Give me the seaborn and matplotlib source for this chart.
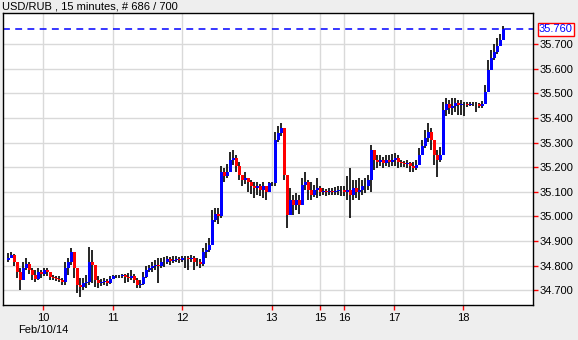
import numpy as np
import pandas as pd
import seaborn as sns
import matplotlib
matplotlib.use("Agg")
import matplotlib.pyplot as plt
import matplotlib.transforms as mtransforms

# ---------------- data ----------------
title = "USD/RUB , 15 minutes, # 686 / 700"
date_label = "Feb/10/14"
first_open = 34.823
last_price = 35.760

close = [
    34.831, 34.843, 34.815, 34.774, 34.742, 34.791, 34.807, 34.782, 34.762, 34.746,
    34.774, 34.766, 34.782, 34.774, 34.754, 34.750, 34.746, 34.742, 34.734, 34.791,
    34.815, 34.856, 34.791, 34.721, 34.713, 34.730, 34.734, 34.815, 34.803, 34.742,
    34.730, 34.734, 34.738, 34.730, 34.746, 34.758, 34.758, 34.758, 34.762, 34.754,
    34.750, 34.758, 34.742, 34.721, 34.725, 34.754, 34.782, 34.791, 34.799, 34.803,
    34.799, 34.815, 34.815, 34.827, 34.819, 34.823, 34.827, 34.823, 34.831, 34.831,
    34.827, 34.831, 34.815, 34.815, 34.807, 34.856, 34.864, 34.884, 34.986, 35.010,
    35.002, 35.181, 35.165, 35.181, 35.230, 35.238, 35.205, 35.169, 35.148, 35.156,
    35.140, 35.124, 35.116, 35.124, 35.108, 35.124, 35.100, 35.136, 35.136, 35.311,
    35.339, 35.360, 35.169, 35.006, 35.067, 35.047, 35.067, 35.047, 35.128, 35.140,
    35.108, 35.087, 35.108, 35.116, 35.100, 35.104, 35.100, 35.104, 35.100, 35.104,
    35.108, 35.108, 35.100, 35.108, 35.087, 35.116, 35.100, 35.108, 35.124, 35.124,
    35.148, 35.270, 35.230, 35.221, 35.230, 35.217, 35.230, 35.221, 35.230, 35.238,
    35.221, 35.217, 35.213, 35.217, 35.205, 35.197, 35.209, 35.250, 35.287, 35.319,
    35.343, 35.311, 35.250, 35.230, 35.250, 35.433, 35.457, 35.441, 35.449, 35.461,
    35.453, 35.457, 35.457, 35.453, 35.457, 35.457, 35.457, 35.449, 35.457, 35.506,
    35.595, 35.644, 35.669, 35.693, 35.717, 35.760,
]

high = [
    34.852, 34.856, 34.848, 34.815, 34.791, 34.815, 34.831, 34.815, 34.791, 34.782,
    34.791, 34.782, 34.791, 34.791, 34.774, 34.762, 34.758, 34.758, 34.750, 34.815,
    34.831, 34.872, 34.856, 34.791, 34.750, 34.750, 34.762, 34.876, 34.864, 34.803,
    34.758, 34.746, 34.750, 34.746, 34.758, 34.762, 34.762, 34.762, 34.766, 34.766,
    34.770, 34.782, 34.766, 34.750, 34.742, 34.774, 34.799, 34.803, 34.815, 34.823,
    34.831, 34.831, 34.835, 34.839, 34.835, 34.839, 34.839, 34.835, 34.839, 34.839,
    34.839, 34.843, 34.839, 34.831, 34.827, 34.872, 34.892, 34.913, 35.026, 35.034,
    35.034, 35.205, 35.197, 35.213, 35.262, 35.270, 35.250, 35.221, 35.169, 35.181,
    35.156, 35.148, 35.140, 35.140, 35.132, 35.140, 35.124, 35.140, 35.140, 35.343,
    35.368, 35.380, 35.360, 35.169, 35.116, 35.087, 35.095, 35.087, 35.156, 35.181,
    35.148, 35.140, 35.128, 35.156, 35.124, 35.116, 35.112, 35.116, 35.116, 35.120,
    35.124, 35.124, 35.124, 35.165, 35.197, 35.148, 35.148, 35.156, 35.148, 35.156,
    35.169, 35.291, 35.270, 35.250, 35.250, 35.242, 35.250, 35.250, 35.254, 35.258,
    35.250, 35.230, 35.226, 35.230, 35.221, 35.221, 35.230, 35.278, 35.311, 35.352,
    35.380, 35.360, 35.311, 35.270, 35.282, 35.465, 35.482, 35.474, 35.482, 35.482,
    35.474, 35.474, 35.465, 35.465, 35.465, 35.465, 35.465, 35.461, 35.469, 35.534,
    35.636, 35.677, 35.701, 35.726, 35.742, 35.774,
]

low = [
    34.815, 34.831, 34.799, 34.750, 34.701, 34.742, 34.782, 34.766, 34.742, 34.734,
    34.742, 34.750, 34.758, 34.758, 34.742, 34.742, 34.738, 34.734, 34.721, 34.721,
    34.762, 34.803, 34.750, 34.689, 34.673, 34.701, 34.709, 34.721, 34.730, 34.713,
    34.709, 34.717, 34.721, 34.717, 34.725, 34.746, 34.750, 34.750, 34.750, 34.730,
    34.734, 34.742, 34.730, 34.709, 34.709, 34.721, 34.750, 34.774, 34.774, 34.782,
    34.730, 34.791, 34.795, 34.807, 34.803, 34.811, 34.815, 34.811, 34.815, 34.791,
    34.782, 34.815, 34.782, 34.799, 34.791, 34.799, 34.831, 34.856, 34.884, 34.978,
    34.969, 34.994, 35.140, 35.156, 35.181, 35.209, 35.181, 35.148, 35.124, 35.132,
    35.100, 35.091, 35.075, 35.087, 35.083, 35.075, 35.067, 35.100, 35.124, 35.124,
    35.303, 35.327, 35.148, 34.953, 35.006, 35.006, 35.026, 35.010, 35.047, 35.108,
    35.067, 35.067, 35.079, 35.075, 35.083, 35.087, 35.083, 35.087, 35.087, 35.087,
    35.087, 35.083, 35.083, 35.067, 34.994, 35.067, 35.075, 35.067, 35.087, 35.095,
    35.108, 35.100, 35.189, 35.197, 35.205, 35.197, 35.205, 35.201, 35.205, 35.205,
    35.197, 35.201, 35.201, 35.197, 35.181, 35.181, 35.189, 35.209, 35.250, 35.278,
    35.303, 35.270, 35.209, 35.160, 35.221, 35.250, 35.408, 35.417, 35.413, 35.425,
    35.413, 35.413, 35.408, 35.445, 35.449, 35.449, 35.425, 35.441, 35.441, 35.457,
    35.506, 35.595, 35.636, 35.660, 35.693, 35.717,
]

day_labels = ["10", "11", "12", "13", "15", "16", "17", "18"]
day_tick_pos = [11.8, 35.1, 58.1, 87.9, 104.1, 112.1, 128.8, 151.8]
price_ticks = [34.7, 34.8, 34.9, 35.0, 35.1, 35.2, 35.3, 35.4, 35.5, 35.6, 35.7]

# ---------------- styling ----------------
sns.set_theme(style="white")
plt.rcParams["font.family"] = ["Liberation Sans", "DejaVu Sans"]

df = pd.DataFrame({"close": close, "high": high, "low": low})
df["open"] = [first_open] + close[:-1]
df["bar"] = np.arange(len(df))
df["dir"] = np.where(df["close"] >= df["open"], "up", "down")
palette = {"up": "#0000FF", "down": "#FF0000"}

W, H = 578, 340
fig = plt.figure(figsize=(W / 100, H / 100), dpi=100, facecolor="#EEEEEE")
ax = fig.add_axes([3 / W, 1 - 305 / H, 530 / W, 292 / H])
ax.set_facecolor("white")

# grid
ax.set_axisbelow(True)
ax.grid(True, color="#D9D9D9", lw=1.0)

# wicks
ax.vlines(df["bar"], df["low"], df["high"], color="black", lw=1.2, zorder=2)
# bodies
ax.bar(df["bar"], df["close"] - df["open"], bottom=df["open"], width=1.0,
       color=df["dir"].map(palette), linewidth=0, zorder=3)

# last price line
ax.axhline(last_price, color="#0000FF", lw=1.1, ls=(0, (4.5, 3.5)), zorder=1.5)

ax.set_xlim(-1.67, 175)
ax.set_ylim(34.640, 35.827)

ax.yaxis.tick_right()
ax.set_yticks(price_ticks)
ax.set_yticklabels([f"{v:.3f}" for v in price_ticks])
ax.set_xticks(day_tick_pos)
ax.set_xticklabels(day_labels)
ax.tick_params(axis="y", which="both", right=True, left=False, length=3.5, width=1.0,
               color="#FF0000", labelsize=8, pad=1, labelcolor="black")
ax.tick_params(axis="x", which="both", bottom=True, length=3.5, width=1.0,
               color="#FF0000", labelsize=8, pad=2, labelcolor="black")

for s in ax.spines.values():
    s.set_color("black")
    s.set_linewidth(1.0)
    s.set_visible(True)

# last-price box
trans = mtransforms.blended_transform_factory(ax.transAxes, ax.transData)
ax.text(1.0 + 6 / 530, last_price, f"{last_price:.3f}", transform=trans,
        ha="left", va="center", fontsize=8, color="#0000FF",
        bbox=dict(boxstyle="square,pad=0.12", fc="white", ec="#FF0000", lw=1.0),
        clip_on=False)

fig.text(2 / W, 1 - 6.5 / H, title, ha="left", va="center", fontsize=8, color="black")
fig.text(18 / W, 1 - 330 / H, date_label, ha="left", va="center", fontsize=8, color="black")

fig.savefig("out.png", dpi=100, facecolor=fig.get_facecolor())
